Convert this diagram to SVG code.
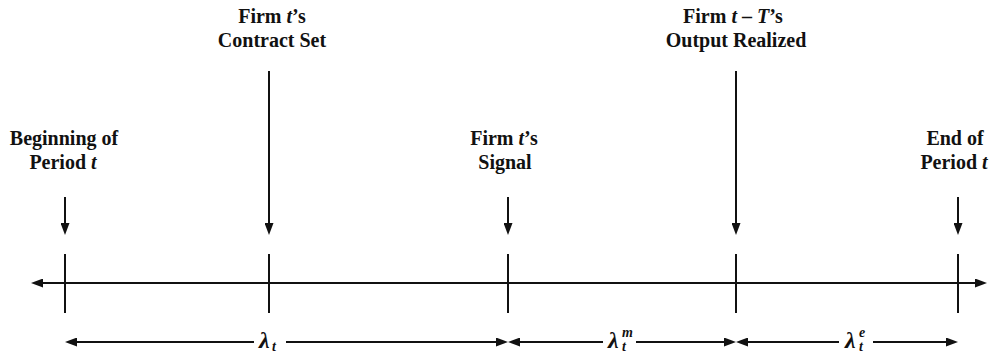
<svg xmlns="http://www.w3.org/2000/svg" width="989" height="353" viewBox="0 0 989 353">
  <style>
    .lbl { font-family: "Liberation Serif", "Times New Roman", "DejaVu Serif", serif; font-weight: 700; font-size: 20px; fill: #111; text-anchor: middle; }
    .it { font-style: italic; }
    .lam { font-family: "Liberation Serif", "Times New Roman", "DejaVu Serif", serif; font-weight: 700; font-style: italic; font-size: 24px; fill: #111; }
    .sub { font-family: "Liberation Serif", "Times New Roman", "DejaVu Serif", serif; font-weight: 700; font-style: italic; font-size: 14px; fill: #111; }
    .ln { stroke: #111; stroke-width: 2; fill: none; }
    .arr { stroke: #111; stroke-width: 2; fill: none; marker-end: url(#ah); }
    .arr2 { stroke: #111; stroke-width: 2; fill: none; marker-start: url(#ah); marker-end: url(#ah); }
  </style>
  <defs>
    <marker id="ah" markerUnits="userSpaceOnUse" markerWidth="12" markerHeight="9" refX="0" refY="4.5" orient="auto-start-reverse">
      <path d="M0,0 L12,4.5 L0,9 z" fill="#111"/>
    </marker>
  </defs>
  <rect width="989" height="353" fill="#fff"/>

  <g id="node-beginning">
    <text class="lbl" x="64" y="145">Beginning of</text>
    <text class="lbl" x="63" y="169">Period <tspan class="it">t</tspan></text>
    <line class="arr" x1="65" y1="197" x2="65" y2="223"/>
  </g>
  <g id="node-contract">
    <text class="lbl" x="272" y="23">Firm <tspan class="it">t</tspan>’s</text>
    <text class="lbl" x="272" y="47">Contract Set</text>
    <line class="arr" x1="269" y1="71" x2="269" y2="223"/>
  </g>
  <g id="node-signal">
    <text class="lbl" x="504" y="145">Firm <tspan class="it">t</tspan>’s</text>
    <text class="lbl" x="505" y="169">Signal</text>
    <line class="arr" x1="508" y1="197" x2="508" y2="223"/>
  </g>
  <g id="node-output">
    <text class="lbl" x="733" y="23">Firm <tspan class="it">t</tspan> – <tspan class="it">T</tspan>’s</text>
    <text class="lbl" x="736" y="47">Output Realized</text>
    <line class="arr" x1="736" y1="71" x2="736" y2="223"/>
  </g>
  <g id="node-end">
    <text class="lbl" x="955" y="145">End of</text>
    <text class="lbl" x="954" y="169">Period <tspan class="it">t</tspan></text>
    <line class="arr" x1="958" y1="197" x2="958" y2="223"/>
  </g>

  <g id="connectors">
    <line class="arr2" x1="43" y1="283" x2="975" y2="283"/>
    <line class="ln" x1="65" y1="254" x2="65" y2="313"/>
    <line class="ln" x1="269" y1="254" x2="269" y2="313"/>
    <line class="ln" x1="508" y1="254" x2="508" y2="313"/>
    <line class="ln" x1="736" y1="254" x2="736" y2="313"/>
    <line class="ln" x1="958" y1="254" x2="958" y2="313"/>

    <line class="ln" x1="77" y1="342" x2="254" y2="342" marker-start="url(#ah)"/>
    <line class="ln" x1="286" y1="342" x2="496" y2="342" marker-end="url(#ah)"/>
    <line class="ln" x1="520" y1="342" x2="603" y2="342" marker-start="url(#ah)"/>
    <line class="ln" x1="636" y1="342" x2="724" y2="342" marker-end="url(#ah)"/>
    <line class="ln" x1="748" y1="342" x2="839" y2="342" marker-start="url(#ah)"/>
    <line class="ln" x1="873" y1="342" x2="946" y2="342" marker-end="url(#ah)"/>
  </g>

  <g id="interval-labels">
    <text class="lam" x="259" y="348">λ</text>
    <text class="sub" x="272" y="351">t</text>
    <text class="lam" x="608" y="348">λ</text>
    <text class="sub" x="622" y="337">m</text>
    <text class="sub" x="622" y="351">t</text>
    <text class="lam" x="845" y="348">λ</text>
    <text class="sub" x="859" y="337">e</text>
    <text class="sub" x="859" y="351">t</text>
  </g>
</svg>
